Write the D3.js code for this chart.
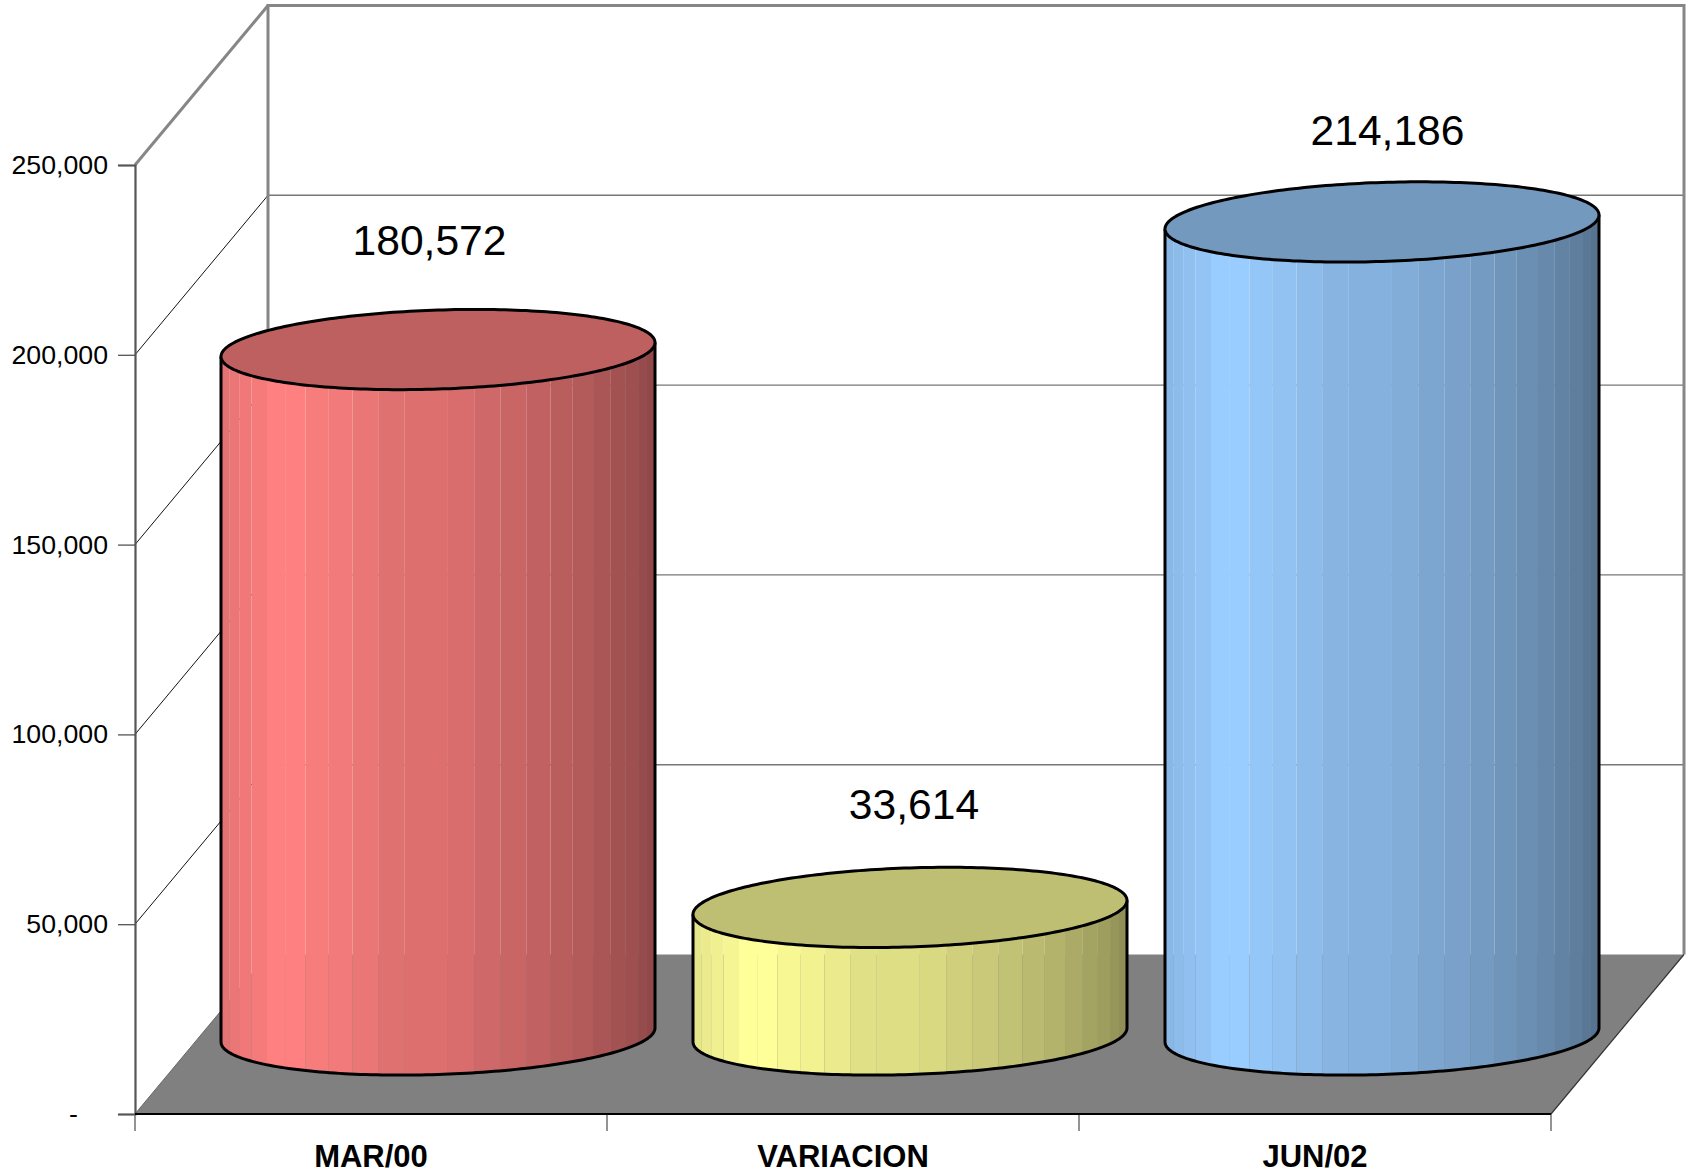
<!DOCTYPE html>
<html>
<head>
<meta charset="utf-8">
<script src="https://cdnjs.cloudflare.com/ajax/libs/d3/7.8.5/d3.min.js"></script>
<style>
html,body{margin:0;padding:0;background:#fff;overflow:hidden}
svg{display:block}
text{font-family:"Liberation Sans",Arial,sans-serif;fill:#000}
</style>
</head>
<body>
<svg id="chart" width="1692" height="1173"></svg>
<script>
// ---------- data ----------
const categories = ["MAR/00", "VARIACION", "JUN/02"];
const values = [180572, 33614, 214186];
const valueLabels = ["180,572", "33,614", "214,186"];
const sideColors = ["#FF8080", "#FFFF99", "#99CCFF"];
const yTicks = [0, 50000, 100000, 150000, 200000, 250000];
// brightness of each cylinder facet, left to right
const facetShade = [.90,.92,.94,.96,1,1,.97,.95,.92,.88,.87,.85,.81,.79,.76,.73,.70,.67,.64,.62,.59,.565];
// facet edges in degrees around the front of the cylinder
const facetEdges = [180,163.6,156.4,149.2,142,134.8,127.6,120.4,113.2,106,98.8,87.6,80.4,73.2,66,58.8,51.6,44.4,37.2,30,22.8,15.6,0];

// ---------- layout ----------
const frontLeft = 135, frontRight = 1551, yZero = 1114, yTop = 165;
const depthX = 133, depthY = -159.5;
const baseY = 1035, radiusX = 217, radiusY = 39.5, shear = 7;
const barInset = 86;
const labelDx = [-8.5, 4, 5.5], labelRise = [94.5, 88, 76.5];

const svg = d3.select("#chart");
const x = d3.scaleBand().domain(categories).range([frontLeft, frontRight]);
const y = d3.scaleLinear().domain([0, 250000]).range([yZero, yTop]);
const backY = v => y(v) + depthY;
const backLeft = frontLeft + depthX, backRight = frontRight + depthX;

// ---------- walls ----------
const walls = svg.append("g");
const seg = (x1, y1, x2, y2, col, w) => walls.append("line")
  .attr("x1", x1).attr("y1", y1).attr("x2", x2).attr("y2", y2)
  .attr("stroke", col).attr("stroke-width", w);

// floor
walls.append("path")
  .attr("d", d3.line()([[frontLeft, yZero], [frontRight, yZero], [backRight, backY(0)], [backLeft, backY(0)]]) + "Z")
  .attr("fill", "#808080");

// gridlines
yTicks.slice(1, -1).forEach(v => {
  seg(frontLeft, y(v), backLeft, backY(v), "#111", 1);
  seg(backLeft, backY(v), backRight, backY(v), "#777", 1.4);
});
// frame
seg(frontLeft, y(250000), backLeft, backY(250000), "#868686", 3);
seg(backLeft, backY(250000) - 1.5, backLeft, backY(0), "#868686", 3);
seg(backLeft, backY(250000), backRight, backY(250000), "#868686", 3);
seg(backRight, backY(250000) - 1.5, backRight, backY(0), "#868686", 3);
seg(frontRight, yZero, backRight, backY(0), "#333", 1.2);
seg(frontLeft, yZero, backLeft, backY(0), "#666", 1);

// ---------- axes ----------
const yAxis = d3.axisLeft(y).tickValues(yTicks).tickSize(17).tickPadding(10)
  .tickFormat(v => v === 0 ? "-" : d3.format(",")(v));
const yG = svg.append("g").attr("transform", `translate(${frontLeft},0)`).call(yAxis);
yG.select(".domain").attr("stroke", "#555").attr("stroke-width", 2.2);
yG.selectAll(".tick line").attr("stroke", "#555").attr("stroke-width", 1.3);
yG.selectAll("text").attr("font-size", 26.7).attr("fill", "#000").attr("font-family", '"Liberation Sans",Arial,sans-serif');
yG.selectAll(".tick").filter(d => d === 0).select("text").attr("dx", -30);

const xG = svg.append("g");
xG.selectAll("line.xt").data([...categories.map(c => x(c)), frontRight]).join("line")
  .attr("class", "xt").attr("x1", d => d).attr("x2", d => d)
  .attr("y1", yZero).attr("y2", yZero + 17).attr("stroke", "#666").attr("stroke-width", 1.4);
xG.append("line").attr("x1", frontLeft).attr("x2", frontRight).attr("y1", yZero).attr("y2", yZero)
  .attr("stroke", "#000").attr("stroke-width", 2);
xG.selectAll("text").data(categories).join("text")
  .attr("x", d => x(d) + x.bandwidth() / 2)
  .attr("y", 1167).attr("text-anchor", "middle")
  .attr("font-size", 31).attr("font-weight", "bold").text(d => d);

// ---------- cylinders ----------
const rad = d => d * Math.PI / 180;
const ring = (cx, cy, deg) => [
  cx + radiusX * Math.cos(rad(deg)),
  cy - shear * Math.cos(rad(deg)) + radiusY * Math.sin(rad(deg))
];
const arcPts = (cx, cy, from, to) => {
  const n = Math.max(2, Math.ceil(Math.abs(from - to) / 1.5));
  return d3.range(n + 1).map(i => ring(cx, cy, from + (to - from) * i / n));
};
const line = d3.line();

categories.forEach((c, i) => {
  const cx = x(c) + barInset + radiusX;
  const h = yZero - y(values[i]);
  const topY = baseY - h;
  const g = svg.append("g");
  const base = d3.color(sideColors[i]);

  // side facets
  facetShade.forEach((s, k) => {
    const a = facetEdges[k], b = facetEdges[k + 1];
    const pts = [...arcPts(cx, topY, b, a), ...arcPts(cx, baseY, a, b)];
    g.append("path").attr("d", line(pts) + "Z")
      .attr("fill", d3.rgb(base.r * s, base.g * s, base.b * s).formatHex());
  });

  // outline of side
  const outline = [ring(cx, topY, 180), ...arcPts(cx, baseY, 180, 0), ring(cx, topY, 0)];
  g.append("path").attr("d", line(outline)).attr("fill", "none")
    .attr("stroke", "#000").attr("stroke-width", 3).attr("stroke-linejoin", "round");

  // top
  g.append("path").attr("d", line(arcPts(cx, topY, 0, 360)) + "Z")
    .attr("fill", d3.rgb(base.r * .75, base.g * .75, base.b * .75).formatHex())
    .attr("stroke", "#000").attr("stroke-width", 3).attr("stroke-linejoin", "round");

  // value label
  svg.append("text")
    .attr("x", cx + labelDx[i])
    .attr("y", topY - labelRise[i])
    .attr("text-anchor", "middle").attr("font-size", 42.6)
    .text(valueLabels[i]);
});
</script>
</body>
</html>
